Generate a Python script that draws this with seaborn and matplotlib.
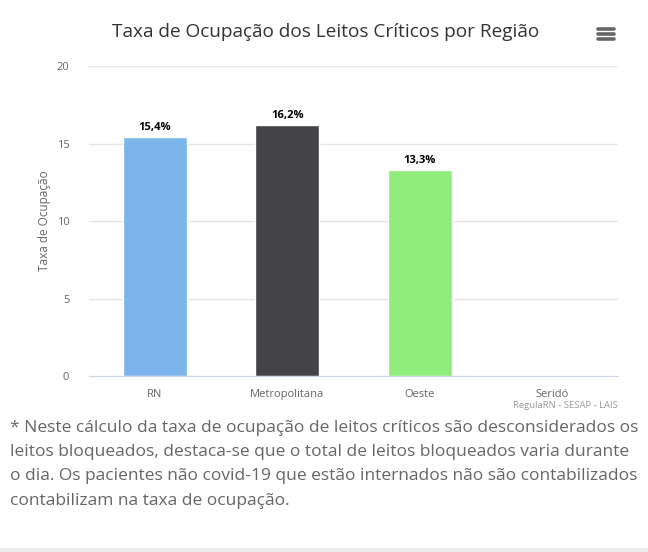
import numpy as np
import pandas as pd
import seaborn as sns
import matplotlib.pyplot as plt
from matplotlib.lines import Line2D
from matplotlib.patches import Rectangle

regioes = ["RN", "Metropolitana", "Oeste", "Seridó"]
taxas = [15.4, 16.2, 13.3, np.nan]
rotulos = ["15,4%", "16,2%", "13,3%", ""]
cores = ["#7cb5ec", "#434348", "#90ed7d", "#f7a35c"]
yticks = [0, 5, 10, 15, 20]

titulo = "Taxa de Ocupação dos Leitos Críticos por Região"
nota = ("* Neste cálculo da taxa de ocupação de leitos críticos são desconsiderados os\n"
        "leitos bloqueados, destaca-se que o total de leitos bloqueados varia durante\n"
        "o dia. Os pacientes não covid-19 que estão internados não são contabilizados\n"
        "contabilizam na taxa de ocupação.")

df = pd.DataFrame({"regiao": regioes, "taxa": taxas})

sns.set_style("white")
plt.rcParams["font.family"] = ["Open Sans", "DejaVu Sans"]

fig = plt.figure(figsize=(6.48, 5.52), dpi=100)
ax = fig.add_axes([0.137, 0.3188, 0.817, 0.5616])

sns.barplot(data=df, x="regiao", y="taxa", hue="regiao", palette=cores,
            order=regioes, width=0.485, legend=False, ax=ax, saturation=1)

for i, (v, r) in enumerate(zip(taxas, rotulos)):
    if not np.isnan(v):
        ax.annotate(r, (i, v), xytext=(0, 3), textcoords="offset points",
                    ha="center", va="bottom", fontsize=8, fontweight="bold",
                    color="#000000")

ax.set_ylim(0, 20)
ax.set_yticks(yticks)
ax.set_xlim(-0.5, 3.5)
ax.grid(axis="y", color="#e6e6e6", linewidth=1)
ax.set_axisbelow(True)
for s in ["top", "right", "left"]:
    ax.spines[s].set_visible(False)
ax.spines["bottom"].set_color("#ccd6eb")
ax.tick_params(axis="both", length=0, labelsize=8, labelcolor="#666666")
ax.tick_params(axis="y", pad=14)
ax.tick_params(axis="x", pad=9)
ax.set_xlabel("")
ax.set_ylabel("Taxa de Ocupação", fontsize=8.5, color="#666666", labelpad=4)

fig.text(0.502, 0.942, titulo, ha="center", va="center", fontsize=13.7, color="#333333")
fig.text(0.954, 0.266, "RegulaRN - SESAP - LAIS", ha="right", va="center",
         fontsize=6.8, color="#999999")
fig.text(0.015, 0.24, nota, ha="left", va="top", fontsize=12.5, color="#666666",
         linespacing=1.7)

# menu icon
for yy in [0.947, 0.938, 0.929]:
    fig.add_artist(Line2D([0.923, 0.948], [yy, yy], color="#666666", linewidth=2.6,
                          solid_capstyle="round"))

fig.add_artist(Rectangle((0, 0), 1, 0.008, transform=fig.transFigure,
                         facecolor="#eeeeee", edgecolor="none"))

fig.savefig("out.png", dpi=100)
